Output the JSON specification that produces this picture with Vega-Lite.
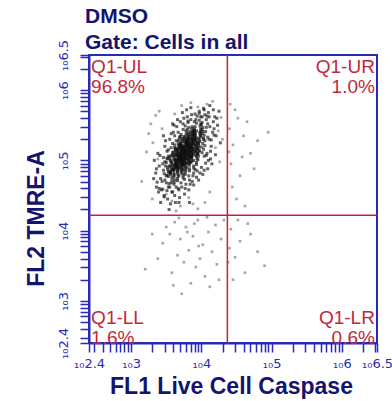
{
"$schema": "https://vega.github.io/schema/vega-lite/v6.json",
"width": 288, "height": 288,
"autosize": {"type": "none"},
"padding": {"left": 89, "top": 55, "right": 15, "bottom": 58},
"background": "white",
"title": {"text": ["DMSO", "Gate: Cells in all"], "anchor": "start", "frame": "group", "dx": -4, "dy": 18, "offset": 4, "fontSize": 21, "font": "Liberation Sans", "fontWeight": "bold", "color": "#14146e", "lineHeight": 26},
"config": {
  "view": {"stroke": "#2a2ab8", "strokeWidth": 2},
  "axis": {"grid": false, "domainColor": "#2a2ab8", "domainWidth": 2, "tickColor": "#2a2ab8", "tickWidth": 1.5, "tickSize": 9, "labelFont": "DejaVu Sans", "labelFontSize": 13, "labelColor": "#2a2ab8", "labelOverlap": false, "labelFlush": false, "titleFont": "Liberation Sans", "titleFontSize": 23, "titleFontWeight": "bold", "titleColor": "#14146e"}
},
"datasets": {
"cells": [
{"x":3.77,"y":5.14},{"x":3.79,"y":4.97},{"x":3.76,"y":5.32},{"x":3.78,"y":5.09},{"x":3.75,"y":5.19},{"x":3.78,"y":4.86},{"x":3.76,"y":5.11},{"x":3.77,"y":5.23},{"x":3.79,"y":5.04},{"x":3.75,"y":4.94},{"x":3.77,"y":5.16},{"x":3.78,"y":5.42},{"x":3.76,"y":5.01},{"x":3.79,"y":5.07},{"x":3.76,"y":5.26},{"x":3.77,"y":5.10},{"x":3.79,"y":4.90},{"x":3.76,"y":5.20},{"x":3.78,"y":5.13},{"x":3.75,"y":5.00},{"x":3.78,"y":5.36},{"x":3.76,"y":5.05},{"x":3.77,"y":4.80},{"x":3.79,"y":5.25},{"x":3.75,"y":5.15},{"x":3.77,"y":5.02},{"x":3.78,"y":5.29},{"x":3.76,"y":4.98},{"x":3.79,"y":5.18},{"x":3.76,"y":4.73},{"x":3.77,"y":5.12},{"x":3.79,"y":5.21},{"x":3.76,"y":5.08},{"x":3.78,"y":4.95},{"x":3.75,"y":5.34},{"x":3.78,"y":5.03},{"x":3.76,"y":5.17},{"x":3.77,"y":4.91},{"x":3.79,"y":5.22},{"x":3.75,"y":5.06},{"x":3.77,"y":5.11},{"x":3.78,"y":5.27},{"x":3.76,"y":4.99},{"x":3.79,"y":5.39},{"x":3.76,"y":5.09},{"x":3.77,"y":4.88},{"x":3.79,"y":5.24},{"x":3.76,"y":5.13},{"x":3.78,"y":4.96},{"x":3.75,"y":5.18},{"x":3.78,"y":5.07},{"x":3.76,"y":5.31},{"x":3.77,"y":4.83},{"x":3.78,"y":5.21},{"x":3.75,"y":5.01},{"x":3.77,"y":5.49},{"x":3.78,"y":5.15},{"x":3.76,"y":4.93},{"x":3.79,"y":5.28},{"x":3.76,"y":5.04},{"x":3.74,"y":5.12},
{"x":3.83,"y":5.28},{"x":3.80,"y":5.09},{"x":3.83,"y":4.99},{"x":3.81,"y":5.21},{"x":3.82,"y":5.47},{"x":3.84,"y":5.06},{"x":3.80,"y":5.12},{"x":3.82,"y":5.31},{"x":3.83,"y":5.15},{"x":3.81,"y":4.95},{"x":3.84,"y":5.25},{"x":3.81,"y":5.18},{"x":3.82,"y":5.05},{"x":3.84,"y":5.41},{"x":3.81,"y":5.10},{"x":3.83,"y":4.85},{"x":3.80,"y":5.30},{"x":3.83,"y":5.20},{"x":3.81,"y":5.07},{"x":3.82,"y":5.34},{"x":3.84,"y":5.03},{"x":3.80,"y":5.23},{"x":3.82,"y":4.78},{"x":3.83,"y":5.17},{"x":3.81,"y":5.26},{"x":3.84,"y":5.13},{"x":3.81,"y":5.00},{"x":3.82,"y":5.39},{"x":3.84,"y":5.08},{"x":3.81,"y":5.22},{"x":3.83,"y":4.96},{"x":3.80,"y":5.27},{"x":3.83,"y":5.11},{"x":3.81,"y":5.16},{"x":3.82,"y":5.32},{"x":3.84,"y":5.04},{"x":3.80,"y":5.44},{"x":3.82,"y":5.14},{"x":3.83,"y":4.93},{"x":3.81,"y":5.29},{"x":3.84,"y":5.18},{"x":3.81,"y":5.01},{"x":3.82,"y":5.23},{"x":3.84,"y":5.12},{"x":3.81,"y":5.36},{"x":3.83,"y":4.88},{"x":3.80,"y":5.26},{"x":3.83,"y":5.06},{"x":3.81,"y":5.54},{"x":3.82,"y":5.20},{"x":3.84,"y":4.98},{"x":3.80,"y":5.33},{"x":3.82,"y":5.09},{"x":3.83,"y":5.19},{"x":3.81,"y":5.02},{"x":3.84,"y":5.37},{"x":3.81,"y":5.14},{"x":3.82,"y":5.24},
{"x":3.71,"y":5.07},{"x":3.72,"y":5.16},{"x":3.74,"y":5.03},{"x":3.70,"y":4.90},{"x":3.72,"y":5.29},{"x":3.73,"y":4.98},{"x":3.71,"y":5.12},{"x":3.74,"y":4.86},{"x":3.71,"y":5.17},{"x":3.72,"y":5.01},{"x":3.74,"y":5.06},{"x":3.71,"y":5.22},{"x":3.73,"y":4.94},{"x":3.70,"y":5.34},{"x":3.73,"y":5.04},{"x":3.71,"y":4.83},{"x":3.72,"y":5.19},{"x":3.74,"y":5.08},{"x":3.70,"y":4.91},{"x":3.72,"y":5.13},{"x":3.73,"y":5.02},{"x":3.71,"y":5.26},{"x":3.74,"y":4.78},{"x":3.71,"y":5.16},{"x":3.72,"y":4.96},{"x":3.74,"y":5.44},{"x":3.71,"y":5.10},{"x":3.73,"y":4.88},{"x":3.70,"y":5.23},{"x":3.73,"y":4.99},{"x":3.71,"y":5.09},{"x":3.72,"y":4.92},{"x":3.74,"y":5.27},{"x":3.70,"y":5.04},{"x":3.72,"y":5.14},{"x":3.73,"y":4.81},{"x":3.71,"y":5.06},{"x":3.74,"y":5.18},{"x":3.71,"y":4.99},{"x":3.72,"y":4.89},{"x":3.74,"y":5.11},{"x":3.71,"y":5.37},{"x":3.73,"y":4.96},{"x":3.70,"y":5.02},{"x":3.73,"y":5.21},{"x":3.71,"y":5.05},{"x":3.72,"y":4.85},{"x":3.74,"y":5.15},{"x":3.70,"y":5.08},{"x":3.72,"y":4.95},{"x":3.73,"y":5.31},{"x":3.71,"y":5.00},{"x":3.74,"y":4.75},{"x":3.71,"y":5.20},{"x":3.72,"y":5.10},{"x":3.74,"y":4.97},{"x":3.71,"y":5.24},{"x":3.73,"y":4.93},
{"x":3.85,"y":5.19},{"x":3.87,"y":4.99},{"x":3.88,"y":5.29},{"x":3.86,"y":5.22},{"x":3.89,"y":5.09},{"x":3.86,"y":5.45},{"x":3.87,"y":5.14},{"x":3.89,"y":4.89},{"x":3.86,"y":5.34},{"x":3.88,"y":5.24},{"x":3.85,"y":5.11},{"x":3.88,"y":5.38},{"x":3.86,"y":5.07},{"x":3.87,"y":5.27},{"x":3.89,"y":4.82},{"x":3.85,"y":5.21},{"x":3.87,"y":5.30},{"x":3.88,"y":5.17},{"x":3.86,"y":5.04},{"x":3.89,"y":5.43},{"x":3.86,"y":5.12},{"x":3.87,"y":5.26},{"x":3.89,"y":5.00},{"x":3.86,"y":5.31},{"x":3.88,"y":5.15},{"x":3.85,"y":5.20},{"x":3.88,"y":5.36},{"x":3.86,"y":5.08},{"x":3.87,"y":5.48},{"x":3.89,"y":5.18},{"x":3.85,"y":4.97},{"x":3.87,"y":5.33},{"x":3.88,"y":5.22},{"x":3.86,"y":5.05},{"x":3.89,"y":5.27},{"x":3.86,"y":5.16},{"x":3.87,"y":5.40},{"x":3.89,"y":4.92},{"x":3.86,"y":5.30},{"x":3.88,"y":5.10},{"x":3.85,"y":5.58},{"x":3.88,"y":5.24},{"x":3.86,"y":5.02},{"x":3.87,"y":5.37},{"x":3.89,"y":5.13},{"x":3.85,"y":5.23},{"x":3.87,"y":5.06},{"x":3.88,"y":5.41},{"x":3.86,"y":5.18},
{"x":3.67,"y":5.02},{"x":3.69,"y":5.18},{"x":3.66,"y":4.90},{"x":3.68,"y":5.30},{"x":3.65,"y":5.00},{"x":3.68,"y":4.79},{"x":3.66,"y":5.15},{"x":3.67,"y":5.04},{"x":3.69,"y":4.87},{"x":3.65,"y":5.09},{"x":3.67,"y":4.98},{"x":3.68,"y":5.22},{"x":3.66,"y":4.74},{"x":3.69,"y":5.12},{"x":3.66,"y":4.92},{"x":3.67,"y":5.40},{"x":3.69,"y":5.06},{"x":3.66,"y":4.84},{"x":3.68,"y":5.19},{"x":3.65,"y":4.95},{"x":3.68,"y":5.05},{"x":3.66,"y":4.88},{"x":3.67,"y":5.23},{"x":3.69,"y":5.00},{"x":3.65,"y":5.10},{"x":3.67,"y":4.77},{"x":3.68,"y":5.02},{"x":3.66,"y":5.14},{"x":3.69,"y":4.95},{"x":3.66,"y":4.85},{"x":3.67,"y":5.07},{"x":3.69,"y":5.33},{"x":3.64,"y":4.92},{"x":3.68,"y":4.98},{"x":3.65,"y":5.17},{"x":3.68,"y":5.01},{"x":3.66,"y":4.81},{"x":3.67,"y":5.11},{"x":3.69,"y":5.04},{"x":3.65,"y":4.91},{"x":3.67,"y":5.27},{"x":3.68,"y":4.96},{"x":3.66,"y":4.71},{"x":3.69,"y":5.16},{"x":3.66,"y":5.06},{"x":3.67,"y":4.93},{"x":3.69,"y":5.20},{"x":3.66,"y":4.89},{"x":3.68,"y":5.09},
{"x":3.93,"y":4.94},{"x":3.91,"y":5.39},{"x":3.92,"y":5.29},{"x":3.94,"y":5.16},{"x":3.90,"y":5.43},{"x":3.92,"y":5.12},{"x":3.93,"y":5.32},{"x":3.91,"y":4.87},{"x":3.94,"y":5.26},{"x":3.91,"y":5.35},{"x":3.92,"y":5.22},{"x":3.94,"y":5.09},{"x":3.91,"y":5.48},{"x":3.93,"y":5.17},{"x":3.90,"y":5.31},{"x":3.93,"y":5.05},{"x":3.91,"y":5.36},{"x":3.92,"y":5.20},{"x":3.94,"y":5.25},{"x":3.90,"y":5.41},{"x":3.92,"y":5.13},{"x":3.93,"y":5.53},{"x":3.91,"y":5.23},{"x":3.94,"y":5.02},{"x":3.91,"y":5.38},{"x":3.92,"y":5.27},{"x":3.94,"y":5.10},{"x":3.91,"y":5.32},{"x":3.93,"y":5.21},{"x":3.90,"y":5.45},{"x":3.93,"y":4.97},{"x":3.90,"y":5.34},{"x":3.92,"y":5.15},{"x":3.94,"y":5.63},{"x":3.90,"y":5.29},{"x":3.92,"y":5.07},{"x":3.93,"y":5.42},
{"x":3.62,"y":4.93},{"x":3.63,"y":5.17},{"x":3.61,"y":4.69},{"x":3.64,"y":5.07},{"x":3.61,"y":4.87},{"x":3.62,"y":5.35},{"x":3.64,"y":5.01},{"x":3.61,"y":4.79},{"x":3.63,"y":5.14},{"x":3.60,"y":4.90},{"x":3.63,"y":5.00},{"x":3.61,"y":4.83},{"x":3.62,"y":5.18},{"x":3.64,"y":4.95},{"x":3.60,"y":5.05},{"x":3.62,"y":4.72},{"x":3.63,"y":4.97},{"x":3.61,"y":5.09},{"x":3.64,"y":4.90},{"x":3.61,"y":4.80},{"x":3.62,"y":5.02},{"x":3.64,"y":5.28},{"x":3.60,"y":4.87},{"x":3.63,"y":4.93},{"x":3.60,"y":5.12},{"x":3.63,"y":4.96},{"x":3.61,"y":4.76},{"x":3.62,"y":5.06},{"x":3.64,"y":4.99},{"x":3.60,"y":4.86},{"x":3.62,"y":5.22},{"x":3.63,"y":4.91},{"x":3.61,"y":4.66},{"x":3.64,"y":5.11},{"x":3.61,"y":5.01},{"x":3.62,"y":4.88},{"x":3.64,"y":5.15},
{"x":3.97,"y":5.13},{"x":3.99,"y":5.52},{"x":3.96,"y":5.21},{"x":3.98,"y":5.35},{"x":3.95,"y":5.09},{"x":3.98,"y":5.40},{"x":3.96,"y":5.24},{"x":3.97,"y":5.29},{"x":3.99,"y":5.45},{"x":3.95,"y":5.17},{"x":3.97,"y":5.57},{"x":3.98,"y":5.27},{"x":3.96,"y":5.06},{"x":3.99,"y":5.42},{"x":3.96,"y":5.31},{"x":3.97,"y":5.14},{"x":3.99,"y":5.36},{"x":3.96,"y":5.25},{"x":3.98,"y":5.49},{"x":3.95,"y":5.01},{"x":3.98,"y":5.39},{"x":3.96,"y":5.19},{"x":3.97,"y":5.67},{"x":3.99,"y":5.33},{"x":3.95,"y":5.11},
{"x":3.57,"y":4.68},{"x":3.59,"y":4.93},{"x":3.55,"y":5.05},{"x":3.57,"y":4.86},{"x":3.58,"y":4.76},{"x":3.56,"y":4.98},{"x":3.59,"y":5.24},{"x":3.56,"y":4.83},{"x":3.57,"y":4.89},{"x":3.59,"y":5.08},{"x":3.56,"y":4.92},{"x":3.58,"y":4.72},{"x":3.55,"y":5.02},{"x":3.58,"y":4.95},{"x":3.56,"y":4.82},{"x":3.57,"y":5.18},{"x":3.59,"y":4.87},{"x":3.55,"y":4.62},{"x":3.57,"y":5.07},{"x":3.58,"y":4.97},{"x":3.56,"y":4.84},{"x":3.59,"y":5.11},{"x":3.56,"y":4.80},{"x":3.57,"y":5.00},{"x":3.59,"y":4.55},
{"x":4.03,"y":5.32},{"x":4.01,"y":5.11},{"x":4.02,"y":5.47},{"x":4.04,"y":5.36},{"x":4.00,"y":5.19},{"x":4.02,"y":5.41},{"x":4.03,"y":5.30},{"x":4.01,"y":5.54},{"x":4.04,"y":5.06},{"x":4.01,"y":5.44},{"x":4.02,"y":5.24},{"x":4.04,"y":5.72},{"x":4.01,"y":5.38},{"x":4.03,"y":5.16},{"x":4.00,"y":5.51},
{"x":3.50,"y":4.78},{"x":3.53,"y":4.84},{"x":3.51,"y":5.03},{"x":3.52,"y":4.87},{"x":3.54,"y":4.67},{"x":3.50,"y":4.97},{"x":3.52,"y":4.90},{"x":3.53,"y":4.77},{"x":3.51,"y":5.13},{"x":3.54,"y":4.82},{"x":3.51,"y":4.57},{"x":3.52,"y":5.02},{"x":3.54,"y":4.92},{"x":3.51,"y":4.79},{"x":3.53,"y":5.06},
{"x":4.07,"y":5.47},{"x":4.05,"y":5.21},{"x":4.08,"y":5.63},{"x":4.09,"y":5.33},{"x":4.06,"y":5.41},{"x":4.07,"y":5.07},{"x":4.09,"y":5.52},{"x":4.05,"y":5.28},
{"x":3.48,"y":4.72},{"x":3.46,"y":5.04},{"x":3.47,"y":4.81},{"x":3.49,"y":4.92},{"x":3.45,"y":4.59},{"x":3.48,"y":4.98},{"x":3.47,"y":4.48},{"x":3.46,"y":4.86},
{"x":4.12,"y":5.48},{"x":4.14,"y":5.29},{"x":4.11,"y":5.62},{"x":4.13,"y":5.13},
{"x":3.42,"y":4.74},{"x":3.40,"y":4.92},{"x":3.43,"y":4.58},{"x":3.41,"y":5.07},
{"x":4.17,"y":5.55},{"x":4.18,"y":5.36},{"x":3.37,"y":4.69},{"x":3.36,"y":4.88},{"x":4.22,"y":5.60},{"x":3.32,"y":4.74},
{"x":3.40,"y":4.60},{"x":3.45,"y":4.95},{"x":3.48,"y":5.20},{"x":3.52,"y":4.45},{"x":3.55,"y":5.30},{"x":3.58,"y":4.55},{"x":3.60,"y":5.40},{"x":3.62,"y":4.50},{"x":3.65,"y":5.48},{"x":3.68,"y":4.58},{"x":3.70,"y":5.55},{"x":3.72,"y":4.62},{"x":3.75,"y":5.60},{"x":3.78,"y":4.66},{"x":3.80,"y":5.62},{"x":3.83,"y":4.72},{"x":3.86,"y":5.65},{"x":3.88,"y":4.78},{"x":3.91,"y":5.66},{"x":3.94,"y":4.85},{"x":3.97,"y":5.70},{"x":4.00,"y":4.90},{"x":4.03,"y":5.74},{"x":4.06,"y":4.96},{"x":4.10,"y":5.68},{"x":4.13,"y":5.02},{"x":4.17,"y":5.72},{"x":4.20,"y":5.08},{"x":4.23,"y":5.50},{"x":4.27,"y":5.25},
{"x":3.35,"y":4.82},{"x":3.38,"y":5.10},{"x":3.42,"y":4.40},{"x":3.46,"y":5.35},{"x":3.50,"y":4.68},{"x":3.53,"y":5.15},{"x":3.56,"y":4.38},{"x":3.59,"y":5.52},{"x":3.63,"y":4.40},{"x":3.66,"y":5.58},{"x":3.69,"y":4.47},{"x":3.73,"y":5.68},{"x":3.76,"y":4.52},{"x":3.79,"y":5.72},{"x":3.82,"y":4.58},{"x":3.85,"y":5.75},{"x":3.89,"y":4.65},{"x":3.92,"y":5.58},{"x":3.96,"y":4.72},{"x":3.99,"y":5.62},{"x":4.02,"y":4.80},{"x":4.05,"y":5.65},{"x":4.09,"y":4.88},{"x":4.12,"y":5.78},{"x":4.15,"y":4.95},{"x":4.18,"y":5.45},{"x":4.21,"y":5.35},{"x":4.25,"y":5.70},{"x":4.14,"y":5.20},{"x":4.08,"y":5.10},
{"x":3.44,"y":4.70},{"x":3.47,"y":4.50},{"x":3.53,"y":4.62},{"x":3.57,"y":5.38},{"x":3.61,"y":5.50},{"x":3.64,"y":4.62},{"x":3.67,"y":4.60},{"x":3.71,"y":4.68},{"x":3.74,"y":5.52},{"x":3.77,"y":4.60},{"x":3.81,"y":5.56},{"x":3.84,"y":4.66},{"x":3.87,"y":4.70},{"x":3.90,"y":5.55},{"x":3.93,"y":4.76},{"x":3.98,"y":4.82},{"x":4.01,"y":5.62},{"x":4.04,"y":4.86},{"x":4.07,"y":5.58},{"x":4.10,"y":5.00},{"x":4.11,"y":5.30},{"x":4.16,"y":5.40},{"x":4.19,"y":5.62},{"x":3.39,"y":4.55},{"x":3.33,"y":5.00},{"x":3.36,"y":4.62},{"x":3.49,"y":5.28},{"x":3.54,"y":4.30},{"x":3.68,"y":4.40},{"x":3.83,"y":4.40}
],
"outliers": [
{"x":3.28,"y":5.52},{"x":3.35,"y":5.64},{"x":3.25,"y":5.38},{"x":3.40,"y":5.70},{"x":3.31,"y":5.25},{"x":3.22,"y":5.12},{"x":3.44,"y":5.45},{"x":3.38,"y":5.02},{"x":3.72,"y":5.78},{"x":3.85,"y":5.82},{"x":3.95,"y":5.76},{"x":4.08,"y":5.80},{"x":3.62,"y":5.66},{"x":4.16,"y":5.84},{"x":4.24,"y":5.42},{"x":4.28,"y":5.61},{"x":4.20,"y":5.18},{"x":4.30,"y":5.30},{"x":4.26,"y":4.98},{"x":3.58,"y":4.42},{"x":3.70,"y":4.35},{"x":3.82,"y":4.47},{"x":3.95,"y":4.31},{"x":4.05,"y":4.40},{"x":3.64,"y":4.28},{"x":3.88,"y":4.38},{"x":3.50,"y":4.52},{"x":4.12,"y":4.55},{"x":3.30,"y":4.45},{"x":3.15,"y":4.70},
{"x":4.40,"y":5.45},{"x":4.45,"y":5.22},{"x":4.52,"y":5.60},{"x":4.42,"y":4.95},{"x":4.60,"y":5.35},{"x":4.48,"y":5.72},{"x":4.70,"y":5.10},{"x":4.55,"y":4.78},{"x":4.39,"y":5.12},{"x":4.65,"y":5.55},{"x":4.44,"y":4.62},{"x":4.80,"y":5.28},{"x":4.58,"y":5.05},{"x":4.41,"y":5.80},{"x":4.50,"y":4.45},{"x":4.75,"y":4.88},{"x":4.95,"y":5.40},{"x":4.62,"y":4.35},
{"x":3.62,"y":4.12},{"x":3.78,"y":4.05},{"x":3.95,"y":4.15},{"x":4.10,"y":3.98},{"x":3.70,"y":3.88},{"x":3.88,"y":3.92},{"x":4.02,"y":3.80},{"x":3.55,"y":3.95},{"x":4.20,"y":4.08},{"x":3.82,"y":3.72},{"x":3.66,"y":3.65},{"x":3.98,"y":3.60},{"x":4.15,"y":3.70},{"x":3.45,"y":3.82},{"x":3.92,"y":3.48},{"x":4.28,"y":3.88},{"x":3.75,"y":3.55},{"x":3.58,"y":3.40},{"x":4.05,"y":3.35},{"x":3.85,"y":3.25},{"x":3.38,"y":3.60},{"x":4.22,"y":3.52},{"x":3.68,"y":4.18},{"x":3.90,"y":4.10},{"x":4.32,"y":4.15},{"x":3.50,"y":4.05},{"x":3.30,"y":3.95},{"x":4.12,"y":3.20},{"x":3.72,"y":3.10},{"x":3.96,"y":3.78},{"x":3.80,"y":3.98},{"x":4.25,"y":3.30},{"x":3.60,"y":3.22},{"x":3.20,"y":3.45},{"x":4.08,"y":4.19},
{"x":4.42,"y":4.02},{"x":4.55,"y":3.85},{"x":4.48,"y":3.62},{"x":4.70,"y":3.95},{"x":4.62,"y":3.40},{"x":4.40,"y":3.75},{"x":4.80,"y":3.70},{"x":4.52,"y":4.15},{"x":4.90,"y":3.50},{"x":4.45,"y":3.30},{"x":4.66,"y":4.10},{"x":4.38,"y":3.55}
]
},
"encoding": {
  "x": {"field": "x", "type": "quantitative", "scale": {"domain": [2.4, 6.5], "nice": false, "zero": false},
    "axis": {"title": "FL1 Live Cell Caspase", "titleX": 142, "titleY": 50, "titleAlign": "center", "titleBaseline": "alphabetic",
      "values": [2.4,2.477,2.602,2.699,2.778,2.845,2.903,2.954,3,3.301,3.477,3.602,3.699,3.778,3.845,3.903,3.954,4,4.301,4.477,4.602,4.699,4.778,4.845,4.903,4.954,5,5.301,5.477,5.602,5.699,5.778,5.845,5.903,5.954,6,6.301,6.477,6.5],
      "labelExpr": "datum.value == 2.4 || datum.value == 3 || datum.value == 4 || datum.value == 5 || datum.value == 6 || datum.value == 6.5 ? '₁₀' + datum.value : ''",
      "labelPadding": 5}},
  "y": {"field": "y", "type": "quantitative", "scale": {"domain": [2.4, 6.5], "nice": false, "zero": false},
    "axis": {"title": "FL2 TMRE-A", "titleX": -46, "titleY": 163, "titleAngle": 270, "titleAlign": "center", "titleBaseline": "alphabetic",
      "values": [2.4,2.477,2.602,2.699,2.778,2.845,2.903,2.954,3,3.301,3.477,3.602,3.699,3.778,3.845,3.903,3.954,4,4.301,4.477,4.602,4.699,4.778,4.845,4.903,4.954,5,5.301,5.477,5.602,5.699,5.778,5.845,5.903,5.954,6,6.301,6.477,6.5],
      "labelExpr": "datum.value == 2.4 || datum.value == 3 || datum.value == 4 || datum.value == 5 || datum.value == 6 || datum.value == 6.5 ? '₁₀' + datum.value : ''",
      "labelAngle": 270, "labelAlign": "center", "labelBaseline": "bottom", "labelPadding": 10}}
},
"layer": [
{
  "data": {"name": "outliers"},
  "mark": {"type": "square", "size": 7, "opacity": 0.4, "color": "#202020"}
},
{
  "data": {"name": "cells"},
  "mark": {"type": "square", "size": 9, "opacity": 0.65, "color": "#111111"}
},
{
  "data": {"values": [{"x": 4.37, "y": 2.4, "y2": 6.5}]},
  "mark": {"type": "rule", "color": "#c8203c", "strokeWidth": 1.5},
  "encoding": {"y2": {"field": "y2"}}
},
{
  "data": {"values": [{"x": 2.4, "x2": 6.5, "y": 4.22}]},
  "mark": {"type": "rule", "color": "#c8203c", "strokeWidth": 1.5},
  "encoding": {"x2": {"field": "x2"}}
},
{
  "data": {"values": [{"x": 2.43, "y": 6.46, "label": "Q1-UL\n96.8%"}, {"x": 2.43, "y": 2.88, "label": "Q1-LL\n1.6%"}]},
  "mark": {"type": "text", "align": "left", "baseline": "top", "font": "Liberation Sans", "fontSize": 19, "color": "#c0283c", "lineBreak": "\n", "lineHeight": 20},
  "encoding": {"text": {"field": "label"}}
},
{
  "data": {"values": [{"x": 6.47, "y": 6.46, "label": "Q1-UR\n1.0%"}, {"x": 6.47, "y": 2.88, "label": "Q1-LR\n0.6%"}]},
  "mark": {"type": "text", "align": "right", "baseline": "top", "font": "Liberation Sans", "fontSize": 19, "color": "#c0283c", "lineBreak": "\n", "lineHeight": 20},
  "encoding": {"text": {"field": "label"}}
}
]
}
